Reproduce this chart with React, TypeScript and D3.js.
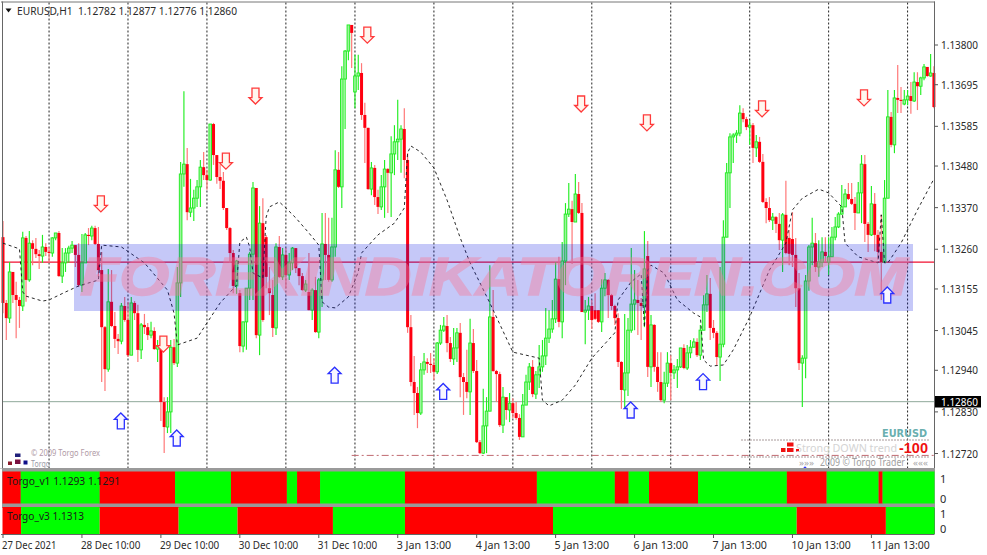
import React from "react";
import * as d3 from "d3";

// Prices are points above 1.12000 (1 point = 0.00001)
const closes = [
  1118,1078,1200,1139,1126,1110,1290,1179,1276,1261,
  1247,1242,1266,1253,1250,1290,1303,1189,1224,1250,
  1263,1271,1245,1165,1224,1298,1295,1316,1274,1205,
  1054,943,1121,1057,1023,1017,1110,1073,980,1118,
  1091,994,1060,1054,1033,1044,996,1004,856,790,
  830,1001,959,1171,1459,1485,1358,1369,1395,1425,
  1477,1456,1443,1591,1509,1451,1441,1369,1316,1250,
  1163,1229,1004,1068,1157,1247,1422,1033,1329,1073,
  1187,1144,1052,1266,1187,1245,1192,1224,1263,1210,
  1189,1152,1168,1099,1152,1041,1179,1274,1245,1179,
  1266,1470,1425,1710,1784,1853,1832,1718,1726,1615,
  1581,1419,1475,1398,1372,1425,1472,1462,1512,1544,
  1551,1578,1496,1054,909,880,827,941,962,957,
  954,936,1012,1046,1057,1012,970,999,1039,922,
  909,883,1012,938,750,721,793,832,1081,938,
  930,795,869,835,853,827,814,764,848,909,
  949,877,928,949,978,1025,1049,1076,1181,1068,
  1229,1353,1366,1332,1406,1356,1094,1099,1110,1073,
  1076,1068,1157,1179,1139,1110,1078,962,888,933,
  1046,1115,1126,1118,1110,1208,949,1060,949,909,
  861,906,959,933,941,949,999,946,986,1001,
  1015,980,1046,1113,1142,1052,1039,975,1009,1292,
  1462,1557,1562,1567,1620,1604,1583,1588,1528,1544,
  1491,1385,1369,1337,1345,1327,1284,1351,1250,1248,
  1245,1157,959,972,1176,1266,1276,1213,1226,1253,
  1242,1240,1292,1319,1353,1372,1406,1393,1380,1356,
  1409,1485,1327,1298,1380,1298,1253,1226,1395,1610,
  1536,1660,1655,1652,1655,1665,1652,1702,1691,1713,
  1742,1718,1726,1636,
];
const highs = [
  1335,1126,1226,1200,1174,1134,1306,1295,1308,1284,
  1290,1258,1298,1276,1266,1292,1303,1308,1263,1263,
  1269,1282,1269,1276,1300,1303,1316,1322,1322,1319,
  1253,1057,1208,1205,1094,1036,1118,1134,1121,1134,
  1123,1113,1065,1089,1065,1068,1054,1020,1001,869,
  869,1020,1023,1213,1491,1678,1528,1446,1417,1443,
  1496,1517,1470,1591,1594,1509,1485,1464,1369,1319,
  1258,1232,1152,1068,1157,1253,1438,1422,1374,1395,
  1298,1213,1179,1276,1295,1263,1263,1250,1266,1263,
  1210,1197,1179,1250,1157,1187,1184,1356,1356,1343,
  1343,1522,1517,1744,1787,1853,1853,1774,1774,1752,
  1647,1581,1491,1483,1417,1456,1496,1475,1559,1588,
  1655,1588,1633,1514,1086,978,896,959,986,972,
  986,972,1015,1060,1081,1086,1028,1052,1052,1065,
  933,994,1076,1049,967,756,891,869,1218,1152,
  941,936,896,869,880,866,856,824,877,928,
  959,967,938,1007,1020,1105,1099,1126,1226,1240,
  1279,1382,1435,1388,1459,1438,1382,1126,1134,1126,
  1144,1099,1181,1197,1181,1142,1113,1091,964,1089,
  1078,1263,1205,1179,1131,1308,1282,1086,1062,988,
  988,936,988,980,954,970,999,1009,1007,1020,
  1025,1025,1060,1139,1192,1184,1073,1044,1213,1337,
  1488,1567,1567,1575,1641,1633,1610,1602,1594,1562,
  1557,1512,1395,1398,1356,1348,1356,1356,1441,1311,
  1358,1290,1197,980,1192,1271,1343,1303,1284,1292,
  1292,1292,1319,1345,1358,1430,1419,1435,1435,1398,
  1438,1509,1509,1332,1427,1409,1311,1351,1443,1681,
  1623,1681,1747,1689,1681,1681,1702,1728,1728,1716,
  1750,1742,1776,1744,
];
const lows = [
  1091,1020,1065,1118,1025,1052,1097,1121,1174,1218,
  1237,1208,1224,1242,1224,1240,1284,1187,1171,1200,
  1224,1250,1213,1160,1147,1224,1271,1284,1271,1187,
  909,885,936,1054,999,983,1009,1068,975,1054,
  1073,962,970,1036,1020,1025,994,962,806,721,
  774,774,954,949,1134,1425,1337,1345,1335,1372,
  1372,1443,1417,1441,1483,1433,1419,1364,1311,1224,
  1144,1142,988,988,994,1126,1126,1025,980,1068,
  1157,1086,1028,1033,1184,1179,1157,1179,1205,1197,
  1165,1150,1147,1099,1073,1039,1025,1107,1179,1174,
  1174,1240,1422,1369,1578,1760,1739,1633,1681,1602,
  1488,1417,1403,1377,1353,1364,1343,1356,1345,1456,
  1496,1462,1448,1039,898,822,787,822,928,933,
  933,914,930,1007,1041,988,962,954,962,869,
  822,866,822,933,748,719,719,721,843,936,
  856,790,774,809,803,814,809,756,764,848,
  888,869,864,893,936,954,1012,1039,1065,1054,
  1025,1165,1345,1221,1332,1353,1094,1009,1073,1049,
  1073,1065,1041,1136,1078,1099,1060,949,838,840,
  872,1039,1046,1033,1020,1054,922,896,936,883,
  856,853,896,861,917,893,946,943,941,972,
  1001,975,967,1046,1094,1020,1025,954,912,1001,
  1292,1369,1488,1541,1559,1596,1575,1536,1488,1504,
  1488,1382,1329,1332,1311,1303,1258,1200,1247,1218,
  1213,1107,941,843,919,1150,1218,1200,1187,1213,
  1226,1192,1242,1284,1316,1351,1372,1390,1377,1311,
  1358,1329,1279,1253,1295,1255,1232,1126,1224,1395,
  1530,1514,1620,1620,1641,1641,1618,1649,1628,1668,
  1707,1716,1716,1633,
];
// Bars whose open differs from the previous close: [bar, open]
const openGaps: [number, number][] = [
  [0,1292],[72,1144],[80,1292],[81,1157],[82,1139],[93,1147],[107,1676],
  [180,1099],[181,1099],[196,1242],[239,1290],[240,1287],[251,1226],[274,1644],
];

// Dashed band line: bar index, then price at that bar
const bandBars = [0,5,6,7,12,14,19,23,28,29,30,36,43,50,52,53,59,62,66,71,72,74,75,76,79,80,81,84,86,89,93,96,97,99,101,105,108,109,114,119,122,123,124,127,131,135,139,142,148,155,163,164,166,170,174,179,186,187,191,194,195,196,197,201,205,210,212,213,215,219,222,227,233,238,240,243,248,251,255,256,260,266,267,268,269,273,278,283];
const bandVals = [1276,1261,1147,1136,1123,1126,1147,1163,1176,1179,1271,1266,1224,1152,1091,1007,1025,1065,1118,1165,1279,1292,1266,1197,1184,1345,1372,1385,1369,1343,1303,1271,1121,1107,1105,1134,1200,1250,1298,1329,1369,1515,1533,1517,1475,1390,1290,1224,1118,988,972,861,846,861,901,972,1039,1126,1174,1195,1054,1205,1218,1197,1126,1091,1081,967,951,954,994,1081,1205,1276,1364,1395,1419,1409,1372,1276,1240,1224,1351,1224,1224,1276,1364,1446];

const downArrowBars = [30,49,68,77,111,176,196,231,262];
const downArrowVals = [1380,1009,1493,1665,1826,1644,1594,1631,1660];
const upArrowBars = [36,53,101,134,191,213,269,244];
const upArrowVals = [806,761,927,884,835,910,1139,663];

const separatorBars = [14,38,62,86,107,131,155,179,203,227,251,275];
const timeLabels = ["27 Dec 2021","28 Dec 10:00","29 Dec 10:00","30 Dec 10:00","31 Dec 10:00","3 Jan 13:00","4 Jan 13:00","5 Jan 13:00","6 Jan 13:00","7 Jan 13:00","10 Jan 13:00","11 Jan 13:00"];
const priceTicks = [1800,1695,1585,1480,1370,1260,1155,1045,940,830,720];

const v1Breaks = [5.4,29.4,52.3,69.3,86.3,89.4,96.4,122.2,162.3,186,190.2,196.4,211.3,238.3,250.4,266.2,267.4];
const v3Breaks = [5.5,29.4,53.4,71.3,100.3,122.2,167.2,241.3,268.4];

const supportLevel = 1226;
const lastLevel = 857;
const lowLevel = 715;

const W = 987, H = 555;
const LEFT = 2.5, RIGHT = 934.5, TOP = 2.5, MAIN_BOTTOM = 468;
const UI = "'Noto Sans', 'Open Sans', sans-serif";

const x = d3.scaleLinear().domain([0, 283]).range([3, 933.9]);
const y = d3.scaleLinear().domain([1800, 720]).range([45, 453.5]);

const opens = closes.map((c, i) => {
  const g = openGaps.find((o) => o[0] === i);
  return g ? g[1] : i === 0 ? c : closes[i - 1];
});

const bandLine = d3.line<number>().x((b) => x(b)).y((_, i) => y(bandVals[i]))(bandBars) as string;

function HeatStrip({ breaks, top, bottom }: { breaks: number[]; top: number; bottom: number }) {
  const edges = [LEFT, ...breaks.map((b) => x(b)), RIGHT];
  return (
    <g>
      {d3.pairs(edges).map(([a, b], i) => (
        <rect key={i} x={a} y={top} width={b - a} height={bottom - top} fill={i % 2 === 0 ? "#ff0000" : "#00ff00"} />
      ))}
    </g>
  );
}

function DownArrow({ cx, cy }: { cx: number; cy: number }) {
  const p = [[-3.5,-8],[3.5,-8],[3.5,1.5],[6.5,1.5],[0,8],[-6.5,1.5],[-3.5,1.5]];
  return <polygon points={p.map((q) => `${cx + q[0]},${cy + q[1]}`).join(" ")} fill="#fff6ee" stroke="#ff3a3a" strokeWidth={1.3} />;
}
function UpArrow({ cx, cy }: { cx: number; cy: number }) {
  const p = [[-3.5,8],[3.5,8],[3.5,-1.5],[6.5,-1.5],[0,-8],[-6.5,-1.5],[-3.5,-1.5]];
  return <polygon points={p.map((q) => `${cx + q[0]},${cy + q[1]}`).join(" ")} fill="#f8f6ff" stroke="#2a30ff" strokeWidth={1.3} />;
}

export default function App() {
  return (
    <svg width={W} height={H} viewBox={`0 0 ${W} ${H}`} style={{ position: "absolute", left: 0, top: 0, background: "#fff" }}>
      {/* separators */}
      {separatorBars.map((b) => (
        <line key={b} x1={x(b)} x2={x(b)} y1={TOP} y2={MAIN_BOTTOM} stroke="#222" strokeWidth={1} strokeDasharray="2 2" />
      ))}
      <line x1={LEFT} x2={RIGHT} y1={y(lastLevel)} y2={y(lastLevel)} stroke="#8fa89a" strokeWidth={1} />
      <line x1={x(106)} x2={RIGHT} y1={y(lowLevel)} y2={y(lowLevel)} stroke="#c06a70" strokeWidth={1} strokeDasharray="7 3 2 3" />
      <line x1={LEFT} x2={RIGHT} y1={y(supportLevel)} y2={y(supportLevel)} stroke="#f01030" strokeWidth={1.1} />

      {/* candles */}
      {closes.map((c, i) => {
        const o = opens[i];
        const up = c >= o;
        const top = y(Math.max(o, c));
        const bot = y(Math.min(o, c));
        const hi = y(Math.max(highs[i], o, c));
        const lo = y(Math.min(lows[i], o, c));
        return up ? (
          <g key={i}>
            <line x1={x(i)} x2={x(i)} y1={hi} y2={lo} stroke="#22ee22" strokeWidth={1.15} />
            <rect x={x(i) - 1.3} y={top} width={2.6} height={Math.max(bot - top, 1)} fill="#9cf59c" stroke="#22ec22" strokeWidth={0.95} />
          </g>
        ) : (
          <g key={i}>
            <line x1={x(i)} x2={x(i)} y1={hi} y2={lo} stroke="#ff7878" strokeWidth={1.2} />
            <rect x={x(i) - 1.5} y={top} width={3} height={Math.max(bot - top, 1)} fill="#ff0010" />
          </g>
        );
      })}

      {/* band line */}
      <path d={bandLine} fill="none" stroke="#111" strokeWidth={0.9} strokeDasharray="3 3" />

      {/* watermark */}
      <rect x={74} y={244} width={839} height={67} fill="rgb(0,12,225)" fillOpacity={0.228} />
      <g opacity={0.4}>
        <text x={80} y={295} fontFamily="'Liberation Sans', Arial, sans-serif" fontWeight="bold" fontStyle="italic" fontSize={54} textLength={828} lengthAdjust="spacingAndGlyphs" fill="rgb(250,120,150)" stroke="rgb(250,120,150)" strokeWidth={1.6}>FOREXINDIKATOREN.COM</text>
      </g>

      {/* arrows */}
      {downArrowBars.map((b, i) => <DownArrow key={b} cx={x(b) - 0.8} cy={y(downArrowVals[i])} />)}
      {upArrowBars.map((b, i) => <UpArrow key={b} cx={x(b) - 0.6} cy={y(upArrowVals[i])} />)}

      {/* bottom-left logo */}
      <g>
        <rect x={8} y={461.5} width={4} height={3.5} fill="#8b1a2a" />
        <rect x={15} y={453.5} width={5.5} height={3.5} fill="#20207a" />
        <rect x={15} y={459.5} width={5.5} height={4.5} fill="#7a1040" />
        <rect x={23.5} y={460.5} width={4} height={4} fill="#10108a" />
      </g>
      <text x={31} y={456} fontFamily={UI} fontSize={9} fill="#b09aa6" textLength={69} lengthAdjust="spacingAndGlyphs">© 2009 Torgo Forex</text>
      <text x={31} y={466.5} fontFamily={UI} fontSize={9} fill="#9a9aa6" textLength={19} lengthAdjust="spacingAndGlyphs">Torgo</text>

      {/* bottom-right panel */}
      <text x={927} y={437} textAnchor="end" fontFamily="'DejaVu Sans', sans-serif" fontWeight="bold" fontSize={10} fill="#6aafaf" textLength={45} lengthAdjust="spacingAndGlyphs">EURUSD</text>
      <line x1={741} x2={930} y1={440} y2={440} stroke="#a89a9a" strokeDasharray="2 1" />
      <line x1={741} x2={930} y1={457} y2={457} stroke="#a89a9a" strokeDasharray="2 1" />
      <g fill="#f01010">
        <rect x={781} y={448} width={4.5} height={4} />
        <rect x={787} y={448} width={6.5} height={4} />
        <rect x={787} y={442.5} width={6.5} height={4} />
        <rect x={796} y={449} width={3} height={3} />
      </g>
      <text x={796} y={452} fontFamily={UI} fontSize={11.5} fill="#d4d4d4" textLength={101} lengthAdjust="spacingAndGlyphs">Strong DOWN trend</text>
      <text x={928} y={452.5} textAnchor="end" fontFamily="'Liberation Sans', sans-serif" fontWeight="bold" fontSize={14.5} fill="#f01010">-100</text>
      <text x={799} y={466} fontFamily={UI} fontSize={9} fill="#a8a8a8" textLength={15} lengthAdjust="spacingAndGlyphs">»»»</text>
      <text x={820} y={466} fontFamily={UI} fontSize={10} fill="#a0a0a0" textLength={85} lengthAdjust="spacingAndGlyphs">2009 © Torgo Trader</text>
      <text x={913} y={466} fontFamily={UI} fontSize={9} fill="#a8a8a8" textLength={15} lengthAdjust="spacingAndGlyphs">«««</text>

      {/* chart frame */}
      <line x1={LEFT} x2={LEFT} y1={1.5} y2={MAIN_BOTTOM} stroke="#666" strokeWidth={1} />
      <line x1={1} x2={RIGHT + 0.5} y1={TOP - 0.5} y2={TOP - 0.5} stroke="#777" strokeWidth={1} />
      <line x1={RIGHT} x2={RIGHT} y1={1.5} y2={534} stroke="#666" strokeWidth={1} />

      {/* header */}
      <polygon points="5.5,8.5 11.5,8.5 8.5,12.5" fill="#111" />
      <text x={17} y={14.5} fontFamily={UI} fontSize={11} fill="#2a2a2a" textLength={220} lengthAdjust="spacingAndGlyphs" xmlSpace="preserve">EURUSD,H1  1.12782 1.12877 1.12776 1.12860</text>

      {/* sub-panels */}
      <rect x={0} y={468} width={RIGHT + 0.5} height={40} fill="#9a9a9a" />
      <rect x={0} y={468.5} width={2} height={66} fill="#fff" />
      <HeatStrip breaks={v1Breaks} top={471.5} bottom={503.5} />
      <HeatStrip breaks={v3Breaks} top={507} bottom={534} />
      <line x1={1} x2={RIGHT} y1={534.5} y2={534.5} stroke="#666" strokeWidth={1} />
      <text x={7} y={485} fontFamily={UI} fontSize={11} fill="#1a1a1a" textLength={113} lengthAdjust="spacingAndGlyphs">Torgo_v1 1.1293 1.1291</text>
      <text x={7} y={520} fontFamily={UI} fontSize={11} fill="#1a1a1a" textLength={77} lengthAdjust="spacingAndGlyphs">Torgo_v3 1.1313</text>

      {/* price axis */}
      {priceTicks.map((v) => (
        <g key={v}>
          <line x1={RIGHT} x2={938} y1={y(v)} y2={y(v)} stroke="#555" strokeWidth={1} />
          <text x={941} y={y(v) + 4} fontFamily={UI} fontSize={11} fill="#2a2a2a" textLength={37} lengthAdjust="spacingAndGlyphs">{(1.12 + v / 1e5).toFixed(5)}</text>
        </g>
      ))}
      <rect x={935} y={396} width={46} height={11.5} fill="#000" />
      <text x={941} y={405.5} fontFamily={UI} fontSize={11} fill="#fff" textLength={37} lengthAdjust="spacingAndGlyphs">1.12860</text>
      {[[479,"1"],[499,"0"],[514,"1"],[529,"0"]].map(([yy, t], i) => (
        <text key={i} x={940} y={(yy as number) + 4} fontFamily={UI} fontSize={11} fill="#2a2a2a">{t}</text>
      ))}

      {/* time axis */}
      {timeLabels.map((t, i) => {
        const bar = i * 24;
        return (
          <g key={t}>
            <line x1={x(bar)} x2={x(bar)} y1={534} y2={538} stroke="#555" strokeWidth={1} />
            <text x={x(bar) - 1} y={549} fontFamily={UI} fontSize={11} fill="#2a2a2a" textLength={t.length * 4.95} lengthAdjust="spacingAndGlyphs">{t}</text>
          </g>
        );
      })}
    </svg>
  );
}
